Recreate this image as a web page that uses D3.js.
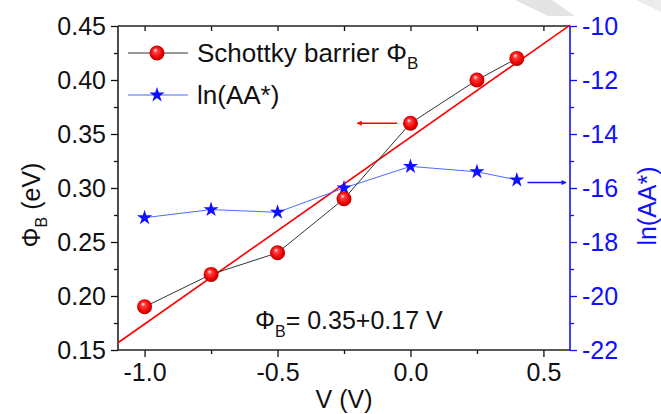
<!DOCTYPE html>
<html>
<head>
<meta charset="utf-8">
<script src="https://cdn.jsdelivr.net/npm/d3@7"></script>
<style>
  body { margin: 0; background: #fff; }
  text { font-family: "Liberation Sans", Arial, sans-serif; }
</style>
</head>
<body>
<div id="chart"></div>
<script>
// data
const voltage = [-1.0, -0.75, -0.5, -0.25, 0.0, 0.25, 0.4];
const barrier = [0.19, 0.22, 0.24, 0.29, 0.36, 0.40, 0.42];
const lnAA = [-17.1, -16.8, -16.9, -16.0, -15.2, -15.4, -15.7];
const fitIntercept = 0.347;
const fitSlope = 0.173;

const xMajor = [-1.0, -0.5, 0.0, 0.5];
const xMinor = [-0.75, -0.25, 0.25];
const yLeftMajor = [0.15, 0.20, 0.25, 0.30, 0.35, 0.40, 0.45];
const yLeftMinor = [0.175, 0.225, 0.275, 0.325, 0.375, 0.425];
const yRightMajor = [-22, -20, -18, -16, -14, -12, -10];
const yRightMinor = [-21, -19, -17, -15, -13, -11];

const width = 661;
const height = 414;
const pLeft = 118, pRight = 570, pTop = 26, pBottom = 350;
const blue = "#1010ff";

const svg = d3.select("#chart")
    .append("svg")
    .attr("width", width)
    .attr("height", height);

const defs = svg.append("defs");
const grad = defs.append("radialGradient")
    .attr("id", "sphere")
    .attr("cx", "0.5").attr("cy", "0.5").attr("r", "0.55")
    .attr("fx", "0.38").attr("fy", "0.3");
grad.append("stop").attr("offset", "0").attr("stop-color", "#ffffff");
grad.append("stop").attr("offset", "0.25").attr("stop-color", "#ff4040");
grad.append("stop").attr("offset", "0.7").attr("stop-color", "#ee0000");
grad.append("stop").attr("offset", "1").attr("stop-color", "#a00000");

["red", "blue"].forEach(c => {
    defs.append("marker")
        .attr("id", "arrow-" + c)
        .attr("viewBox", "0 0 10 10")
        .attr("refX", 9).attr("refY", 5)
        .attr("markerWidth", 7).attr("markerHeight", 5)
        .attr("markerUnits", "userSpaceOnUse")
        .attr("orient", "auto")
        .append("path")
        .attr("d", "M0,0 L10,5 L0,10 Z")
        .attr("fill", c === "red" ? "#ff0000" : blue);
});

// faint grey band in the top right corner of the source picture
svg.append("polygon")
    .attr("points", "515,0 552,0 575,16 548,16")
    .attr("fill", "#e4e4e4");
svg.append("polygon")
    .attr("points", "636,0 661,0 661,12")
    .attr("fill", "#ececec");

const x = d3.scaleLinear().domain([-1.1, 0.6]).range([pLeft, pRight]);
const yL = d3.scaleLinear().domain([0.15, 0.45]).range([pBottom, pTop]);
const yR = d3.scaleLinear().domain([-22, -10]).range([pBottom, pTop]);

function styleAxis(g, color, size) {
    g.select(".domain").remove();
    g.selectAll("line").attr("stroke", color).attr("stroke-width", 1.3);
    g.selectAll("text")
        .attr("fill", color)
        .style("font-size", size + "px");
}

// bottom axis
svg.append("g")
    .attr("transform", `translate(0,${pBottom})`)
    .call(d3.axisBottom(x).tickValues(xMajor).tickSize(7).tickPadding(6)
        .tickFormat(d => d.toFixed(1)))
    .call(g => styleAxis(g, "#111", 25));
svg.append("g")
    .attr("transform", `translate(0,${pBottom})`)
    .call(d3.axisBottom(x).tickValues(xMinor).tickSize(4).tickFormat(""))
    .call(g => styleAxis(g, "#111", 25));

// top axis, ticks pointing inward
svg.append("g")
    .attr("transform", `translate(0,${pTop})`)
    .call(d3.axisTop(x).tickValues(xMajor.concat(xMinor)).tickSize(-5).tickFormat(""))
    .call(g => styleAxis(g, "#111", 25));

// left axis
svg.append("g")
    .attr("transform", `translate(${pLeft},0)`)
    .call(d3.axisLeft(yL).tickValues(yLeftMajor).tickSize(7).tickPadding(5)
        .tickFormat(d => d.toFixed(2)))
    .call(g => styleAxis(g, "#111", 25));
svg.append("g")
    .attr("transform", `translate(${pLeft},0)`)
    .call(d3.axisLeft(yL).tickValues(yLeftMinor).tickSize(4).tickFormat(""))
    .call(g => styleAxis(g, "#111", 25));

// right axis
svg.append("g")
    .attr("transform", `translate(${pRight},0)`)
    .call(d3.axisRight(yR).tickValues(yRightMajor).tickSize(7).tickPadding(5)
        .tickFormat(d => String(d)))
    .call(g => styleAxis(g, blue, 25));
svg.append("g")
    .attr("transform", `translate(${pRight},0)`)
    .call(d3.axisRight(yR).tickValues(yRightMinor).tickSize(4).tickFormat(""))
    .call(g => styleAxis(g, blue, 25));

// frame lines
svg.append("line").attr("x1", pLeft).attr("x2", pRight).attr("y1", pBottom).attr("y2", pBottom)
    .attr("stroke", "#222").attr("stroke-width", 1.6);
svg.append("line").attr("x1", pLeft).attr("x2", pRight).attr("y1", pTop).attr("y2", pTop)
    .attr("stroke", "#222").attr("stroke-width", 1.6);
svg.append("line").attr("x1", pLeft).attr("x2", pLeft).attr("y1", pTop).attr("y2", pBottom)
    .attr("stroke", "#222").attr("stroke-width", 1.6);
svg.append("line").attr("x1", pRight).attr("x2", pRight).attr("y1", pTop).attr("y2", pBottom)
    .attr("stroke", blue).attr("stroke-width", 1.6);

const plot = svg.append("g");

// linear fit
const fitX = x.domain();
plot.append("line")
    .attr("x1", x(fitX[0])).attr("y1", yL(fitIntercept + fitSlope * fitX[0]))
    .attr("x2", x(fitX[1])).attr("y2", yL(fitIntercept + fitSlope * fitX[1]))
    .attr("stroke", "#ff0000").attr("stroke-width", 1.6);

// ln(AA*) series
const lnPts = voltage.map((v, i) => [v, lnAA[i]]);
plot.append("path")
    .datum(lnPts)
    .attr("fill", "none")
    .attr("stroke", "#4d6bff")
    .attr("stroke-width", 1)
    .attr("d", d3.line().x(d => x(d[0])).y(d => yR(d[1])));
plot.selectAll(".star")
    .data(lnPts)
    .enter()
    .append("path")
    .attr("class", "star")
    .attr("transform", d => `translate(${x(d[0])},${yR(d[1])})`)
    .attr("d", d3.symbol().type(d3.symbolStar).size(72))
    .attr("fill", blue);

// barrier series
const barPts = voltage.map((v, i) => [v, barrier[i]]);
plot.append("path")
    .datum(barPts)
    .attr("fill", "none")
    .attr("stroke", "#333")
    .attr("stroke-width", 1)
    .attr("d", d3.line().x(d => x(d[0])).y(d => yL(d[1])));
plot.selectAll(".ball")
    .data(barPts)
    .enter()
    .append("circle")
    .attr("class", "ball")
    .attr("cx", d => x(d[0]))
    .attr("cy", d => yL(d[1]))
    .attr("r", 7.5)
    .attr("fill", "url(#sphere)");

// axis arrows
plot.append("line")
    .attr("x1", x(-0.05)).attr("x2", x(-0.2))
    .attr("y1", yL(0.36)).attr("y2", yL(0.36))
    .attr("stroke", "#ff0000").attr("stroke-width", 1.5)
    .attr("marker-end", "url(#arrow-red)");
plot.append("line")
    .attr("x1", x(0.44)).attr("x2", x(0.585))
    .attr("y1", yR(-15.8)).attr("y2", yR(-15.8))
    .attr("stroke", blue).attr("stroke-width", 1.5)
    .attr("marker-end", "url(#arrow-blue)");

// legend
const legend = svg.append("g");
legend.append("line").attr("x1", 128).attr("x2", 188).attr("y1", 53).attr("y2", 53)
    .attr("stroke", "#333").attr("stroke-width", 1);
legend.append("circle").attr("cx", 157).attr("cy", 53).attr("r", 7.5).attr("fill", "url(#sphere)");
const t1 = legend.append("text").attr("x", 197).attr("y", 62).attr("fill", "#111")
    .style("font-size", "26px");
t1.append("tspan").text("Schottky barrier Φ");
t1.append("tspan").attr("dy", 7).style("font-size", "17px").text("B");

legend.append("line").attr("x1", 128).attr("x2", 188).attr("y1", 95).attr("y2", 95)
    .attr("stroke", "#4d6bff").attr("stroke-width", 1);
legend.append("path").attr("transform", "translate(157,95)")
    .attr("d", d3.symbol().type(d3.symbolStar).size(72)).attr("fill", blue);
legend.append("text").attr("x", 197).attr("y", 104).attr("fill", "#111")
    .style("font-size", "26px").text("ln(AA*)");

// fit equation
const eq = svg.append("text").attr("x", 255).attr("y", 329).attr("fill", "#111")
    .style("font-size", "25px");
eq.append("tspan").text("Φ");
eq.append("tspan").attr("dy", 8).style("font-size", "16px").text("B");
eq.append("tspan").attr("dy", -8).text("= 0.35+0.17 V");

// axis titles
svg.append("text").attr("x", 344).attr("y", 408).attr("text-anchor", "middle")
    .attr("fill", "#111").style("font-size", "25px").text("V (V)");

const yt = svg.append("text")
    .attr("transform", "translate(40,205) rotate(-90)")
    .attr("text-anchor", "middle").attr("fill", "#111").style("font-size", "25px");
yt.append("tspan").text("Φ");
yt.append("tspan").attr("dy", 7).style("font-size", "16px").text("B");
yt.append("tspan").attr("dy", -7).text(" (eV)");

svg.append("text")
    .attr("transform", "translate(656,206) rotate(-90)")
    .attr("text-anchor", "middle").attr("fill", blue).style("font-size", "25px")
    .text("ln(AA*)");
</script>
</body>
</html>
